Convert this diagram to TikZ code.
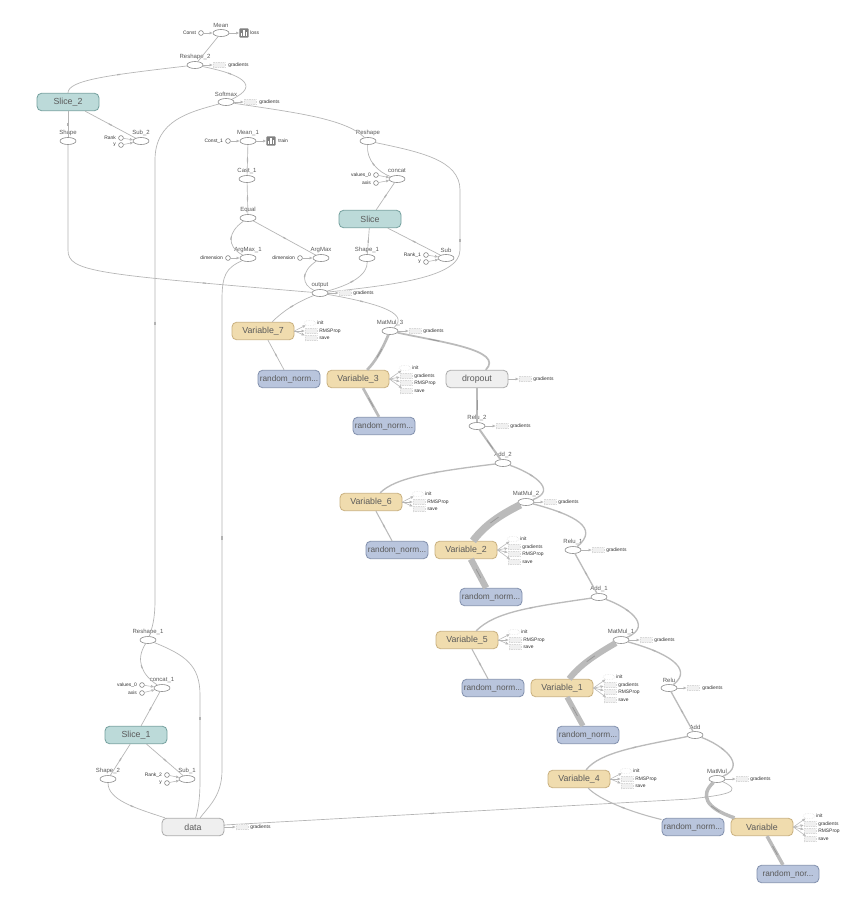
\documentclass[tikz,border=0pt]{standalone}
\usepackage{fontspec}
\setmainfont{Liberation Sans}
\usetikzlibrary{shapes.geometric,arrows.meta,decorations.markings}
\definecolor{edgec}{HTML}{B4B4B4}
\definecolor{labc}{HTML}{5A5A5A}
\definecolor{thk}{HTML}{BBBBBB}
\tikzset{
 op/.style={ellipse,draw=black!45,fill=white,line width=.45pt,minimum width=12pt,minimum height=5.25pt,inner sep=0pt},
 bx/.style={rounded corners=3.4pt,line width=.6pt,minimum width=46.5pt,minimum height=13.1pt,inner sep=0pt,font=\fontsize{6.6}{7}\selectfont,text=labc},
 varb/.style={bx,fill=varf,draw=vard},
 rnd/.style={bx,fill=rndf,draw=rndd,font=\fontsize{6.2}{7}\selectfont},
 slc/.style={bx,fill=slcf,draw=slcd},
 grp/.style={bx,fill=grpf,draw=grpd},
 oplab/.style={font=\fontsize{4.5}{5}\selectfont,text=labc,inner sep=0pt},
 sm/.style={font=\fontsize{3.7}{4}\selectfont,text=black!80,inner sep=0pt,anchor=west},
 smr/.style={font=\fontsize{3.7}{4}\selectfont,text=black!80,inner sep=0pt,anchor=east},
 cst/.style={circle,draw=black!55,fill=white,line width=.4pt,minimum size=3.6pt,inner sep=0pt},
 stubr/.style={rectangle,draw=black!15,densely dotted,fill=black!6,line width=.3pt,minimum width=9pt,minimum height=4pt,inner sep=0pt},
 stube/.style={ellipse,draw=black!25,densely dotted,fill=white,line width=.3pt,minimum width=9pt,minimum height=4pt,inner sep=0pt},
 icon/.style={rectangle,rounded corners=.5pt,fill=black!50,minimum size=6.8pt,inner sep=0pt},
 edge/.style={draw=edgec,line width=.5pt},
 aux/.style={draw=edgec,line width=.4pt,-{Latex[length=2.4pt,width=2.2pt,fill=edgec!60]}},
 mk/.style={postaction={decorate,decoration={markings,mark=at position #1 with {\draw[draw=black!30,line width=.9pt] (-1.6,0)--(1.6,0);}}}},
 mk/.default=.5,
 mkl/.style={postaction={decorate,decoration={markings,mark=at position #1 with {\draw[draw=black!40,line width=.6pt] (-5,0)--(5,0);}}}},
 mkl/.default=.5,
}
\definecolor{varf}{HTML}{F0DCAE}\definecolor{vard}{HTML}{C9B07F}
\definecolor{rndf}{HTML}{B9C5DD}\definecolor{rndd}{HTML}{8290AD}
\definecolor{slcf}{HTML}{BCDAD9}\definecolor{slcd}{HTML}{74A09E}
\definecolor{grpf}{HTML}{EFEFEF}\definecolor{grpd}{HTML}{ABABAB}
% operation: name x y label
\newcommand{\opn}[4]{\node[op] (#1) at (#2,#3) {};\node[oplab] (#1l) at (#2,#3-8) {#4};}
% constant: name x y label target
\newcommand{\konst}[5]{\node[cst] (#1) at (#2,#3) {};\node[smr,left=1.6pt of #1] (#1l) {#4};\draw[aux] (#1) -- (#5);}
% gradient stub: op x y labelx text
\newcommand{\stub}[5]{\node[stubr] (#1g) at (#2,#3) {};\node[sm] (#1gl) at (#4,#3) {#5};\draw[aux] (#1) -- (#1g);}
% variable three aux
\newcommand{\vthree}[3]{\begin{scope}[shift={(#2,#3)}]
 \node[stube] (#1i) at (47,-8) {};\node[sm] (#1il) at (54,-8) {init};
 \node[stubr] (#1r) at (48,0) {};\node[sm] (#1rl) at (56,0) {RMSProp};
 \node[stubr] (#1s) at (48,7) {};\node[sm] (#1sl) at (56,7) {save};
 \draw[aux] (#1.east) -- (#1i);\draw[aux] (#1.east) -- (#1r);\draw[aux] (#1.east) -- (#1s);
 \end{scope}}
\newcommand{\vfour}[3]{\begin{scope}[shift={(#2,#3)}]
 \node[stube] (#1i) at (47,-11) {};\node[sm] (#1il) at (54,-11) {init};
 \node[stubr] (#1g) at (48,-3) {};\node[sm] (#1gl) at (56,-3) {gradients};
 \node[stubr] (#1r) at (48,4) {};\node[sm] (#1rl) at (56,4) {RMSProp};
 \node[stubr] (#1s) at (48,12) {};\node[sm] (#1sl) at (56,12) {save};
 \draw[aux] (#1.east) -- (#1i);\draw[aux] (#1.east) -- (#1g);\draw[aux] (#1.east) -- (#1r);\draw[aux] (#1.east) -- (#1s);
 \end{scope}}
\newcommand{\bars}[1]{\fill[white] ($(#1)+(-3,3)$) rectangle ++(1.2,-2.6);\fill[white] ($(#1)+(-.6,3)$) rectangle ++(1.2,-5.8);\fill[white] ($(#1)+(1.8,3)$) rectangle ++(1.2,-4);}
\usetikzlibrary{calc,positioning}
\begin{document}
\begin{tikzpicture}[x=.75pt,y=-.75pt]
\useasboundingbox (0,0) rectangle (857,900);
\fill[white] (0,0) rectangle (857,900);
\path
 (68,102) node[slc] (slice2) {Slice\_2}
 (370,219) node[slc] (slice) {Slice}
 (136,735) node[slc] (slice1) {Slice\_1}
 (193,827) node[grp] (data) {data}
 (477,379) node[grp] (dropout) {dropout}
 (263,331) node[varb] (v7) {Variable\_7}
 (358,379) node[varb] (v3) {Variable\_3}
 (371,502) node[varb] (v6) {Variable\_6}
 (466,550) node[varb] (v2) {Variable\_2}
 (467,640) node[varb] (v5) {Variable\_5}
 (562,688) node[varb] (v1) {Variable\_1}
 (579,779) node[varb] (v4) {Variable\_4}
 (762,827) node[varb] (v0) {Variable}
 (289,379) node[rnd] (r7) {random\_norm...}
 (384,426) node[rnd] (r3) {random\_norm...}
 (397,550) node[rnd] (r6) {random\_norm...}
 (491,597) node[rnd] (r2) {random\_norm...}
 (493,688) node[rnd] (r5) {random\_norm...}
 (588,735) node[rnd] (r1) {random\_norm...}
 (693,827) node[rnd] (r4) {random\_norm...}
 (788,874) node[rnd] (r0) {random\_nor...};
\opn{mean}{221}{33}{Mean}
\opn{reshape2}{195}{65}{Reshape\_2}
\opn{softmax}{226}{102}{Softmax}
\opn{shape}{68}{141}{Shape}
\opn{sub2}{141}{141}{Sub\_2}
\opn{mean1}{248}{141}{Mean\_1}
\opn{cast1}{247}{179}{Cast\_1}
\opn{reshape}{368}{141}{Reshape}
\opn{concat}{397}{179}{concat}
\opn{equal}{248}{218}{Equal}
\opn{argmax1}{248}{258}{ArgMax\_1}
\opn{argmax}{321}{258}{ArgMax}
\opn{shape1}{367}{258}{Shape\_1}
\opn{sub}{446}{258}{Sub}
\opn{output}{320}{293}{output}
\opn{matmul3}{390}{331}{MatMul\_3}
\opn{relu2}{477}{426}{Relu\_2}
\opn{add2}{503}{463}{Add\_2}
\opn{matmul2}{526}{502}{MatMul\_2}
\opn{relu1}{573}{550}{Relu\_1}
\opn{add1}{599}{597}{Add\_1}
\opn{matmul1}{621}{640}{MatMul\_1}
\opn{relu}{669}{688}{Relu}
\opn{add}{695}{735}{Add}
\opn{matmul}{717}{779}{MatMul}
\opn{reshape1}{148}{640}{Reshape\_1}
\opn{concat1}{162}{688}{concat\_1}
\opn{shape2}{108}{779}{Shape\_2}
\opn{sub1}{187}{779}{Sub\_1}
% main connectors
\draw[edge] (reshape2) -- (mean);
\draw[edge,mk=.55] (reshape2) .. controls (110,75) and (68,80) .. (slice2);
\draw[edge,mk=.4] (reshape2) .. controls (240,74) and (262,85) .. (softmax);
\draw[edge,mk=.45] (softmax) .. controls (190,112) and (155,120) .. (155,160) -- (155,600) .. controls (155,620) and (152,628) .. (reshape1);
\draw[edge] (softmax) .. controls (290,112) and (345,118) .. (reshape);
\draw[edge,mk] (slice2) -- (shape);
\draw[edge,mk=.5] (slice2) -- (sub2);
\draw[edge,mk=.7] (shape) -- (68,250) .. controls (68,272) and (95,274) .. (output);
\draw[edge,mk] (mean1) -- (cast1);
\draw[edge,mk] (cast1) -- (equal);
\draw[edge,mk] (equal) .. controls (228,232) and (226,246) .. (argmax1);
\draw[edge,mk] (equal) -- (argmax);
\draw[edge,mk=.5] (argmax1) .. controls (226,268) and (222,275) .. (222,300) -- (222,770) .. controls (222,795) and (210,805) .. (data);
\draw[edge,mk] (argmax) .. controls (300,272) and (302,285) .. (output);
\draw[edge,mk] (shape1) .. controls (368,275) and (350,285) .. (output);
\draw[edge,mk] (reshape) .. controls (366,160) and (378,172) .. (concat);
\draw[edge,mk] (concat) -- (slice);
\draw[edge,mk] (slice) -- (shape1);
\draw[edge,mk] (slice) -- (sub);
\draw[edge,mk=.5] (reshape) .. controls (420,152) and (460,160) .. (460,190) -- (460,250) .. controls (460,278) and (390,285) .. (output);
\draw[edge,mk] (output) .. controls (295,303) and (282,312) .. (v7);
\draw[edge,mk=.4] (output) .. controls (370,302) and (412,312) .. (matmul3);
\draw[edge,mk] (v7) -- (r7);
\draw[edge,line width=2pt,draw=thk,mkl] (matmul3) .. controls (382,350) and (375,362) .. (v3);
\draw[edge,line width=1.3pt,draw=thk,mkl=.35] (matmul3) .. controls (440,342) and (505,350) .. (dropout);
\draw[edge,line width=2pt,draw=thk,mkl] (v3) -- (r3);
\draw[edge,line width=1.5pt,draw=thk,mkl] (dropout) -- (relu2);
\draw[edge,line width=1.5pt,draw=thk,mkl] (relu2) -- (add2);
\draw[edge,line width=1pt,draw=thk,mk=.5] (add2) .. controls (430,472) and (395,478) .. (v6);
\draw[edge,line width=1pt,draw=thk,mk=.4] (add2) .. controls (530,472) and (560,490) .. (matmul2);
\draw[edge,line width=.8pt,draw=thk,mk] (v6) -- (r6);
\draw[edge,line width=5.6pt,draw=thk,mkl] (matmul2) .. controls (500,515) and (485,525) .. (v2);
\draw[edge,line width=4.8pt,draw=thk,mkl] (v2) -- (r2);
\draw[edge,line width=1pt,draw=thk,mk=.35] (matmul2) .. controls (575,515) and (600,528) .. (relu1);
\draw[edge,line width=1pt,draw=thk,mk] (relu1) -- (add1);
\draw[edge,line width=1pt,draw=thk,mk=.5] (add1) .. controls (530,607) and (495,612) .. (v5);
\draw[edge,line width=1pt,draw=thk,mk=.4] (add1) .. controls (625,606) and (655,625) .. (matmul1);
\draw[edge,line width=.8pt,draw=thk,mk] (v5) -- (r5);
\draw[edge,line width=4.6pt,draw=thk,mkl] (matmul1) .. controls (595,655) and (580,665) .. (v1);
\draw[edge,line width=4pt,draw=thk,mkl] (v1) -- (r1);
\draw[edge,line width=1pt,draw=thk,mk=.35] (matmul1) .. controls (665,652) and (695,668) .. (relu);
\draw[edge,line width=1pt,draw=thk,mk] (relu) -- (add);
\draw[edge,line width=1pt,draw=thk,mk=.5] (add) .. controls (640,746) and (600,752) .. (v4);
\draw[edge,line width=1pt,draw=thk,mk=.4] (add) .. controls (722,745) and (748,765) .. (matmul);
\draw[edge,line width=.8pt,draw=thk,mk=.5] (v4) .. controls (600,800) and (630,812) .. (r4);
\draw[edge,line width=2.6pt,draw=thk,mkl=.6] (matmul) .. controls (700,795) and (705,808) .. (v0);
\draw[edge,line width=2.6pt,draw=thk,mkl] (v0) -- (r0);
\draw[edge,mk=.6] (matmul) .. controls (745,792) and (725,795) .. (690,799) -- (224,825) .. controls (224,825) and (224,826) .. (data);
\draw[edge,mk] (reshape1) .. controls (135,660) and (142,675) .. (concat1);
\draw[edge,mk=.5] (reshape1) .. controls (185,655) and (200,665) .. (200,695) -- (200,780) .. controls (200,800) and (198,810) .. (data);
\draw[edge,mk] (concat1) -- (slice1);
\draw[edge,mk] (slice1) -- (shape2);
\draw[edge,mk] (slice1) -- (sub1);
\draw[edge,mk] (shape2) .. controls (108,800) and (135,808) .. (data);
% constants
\konst{c0}{201}{33}{Const}{mean}
\konst{c1}{121}{138}{Rank}{sub2}
\konst{c2}{121}{145}{y}{sub2}
\konst{c3}{228}{141}{Const\_1}{mean1}
\konst{c4}{376}{175}{values\_0}{concat}
\konst{c5}{376}{183}{axis}{concat}
\konst{c6}{228}{258}{dimension}{argmax1}
\konst{c7}{300}{258}{dimension}{argmax}
\konst{c8}{426}{255}{Rank\_1}{sub}
\konst{c9}{426}{262}{y}{sub}
\konst{c10}{142}{685}{values\_0}{concat1}
\konst{c11}{142}{693}{axis}{concat1}
\konst{c12}{167}{775}{Rank\_2}{sub1}
\konst{c13}{167}{783}{y}{sub1}
% summary icons
\node[icon] (loss) at (244,33) {};\bars{loss}
\node[sm] (lossl) at (250,33) {loss};
\draw[aux] (mean) -- (loss);
\node[icon] (train) at (271,141) {};\bars{train}
\node[sm] (trainl) at (278,141) {train};
\draw[aux] (mean1) -- (train);
% gradient stubs
\stub{reshape2}{219}{65}{228}{gradients}
\stub{softmax}{250}{102}{259}{gradients}
\stub{output}{345}{293}{353}{gradients}
\stub{matmul3}{415}{331}{423}{gradients}
\stub{dropout}{525}{379}{533}{gradients}
\stub{relu2}{502}{426}{510}{gradients}
\stub{matmul2}{550}{502}{558}{gradients}
\stub{relu1}{598}{550}{606}{gradients}
\stub{matmul1}{646}{640}{654}{gradients}
\stub{relu}{693}{688}{702}{gradients}
\stub{matmul}{742}{779}{750}{gradients}
\stub{data}{242}{827}{250}{gradients}
% variable auxiliaries
\vthree{v7}{263}{331}
\vthree{v6}{371}{502}
\vthree{v5}{467}{640}
\vthree{v4}{579}{779}
\vfour{v3}{358}{379}
\vfour{v2}{466}{550}
\vfour{v1}{562}{688}
\vfour{v0}{762}{827}
\end{tikzpicture}
\end{document}
